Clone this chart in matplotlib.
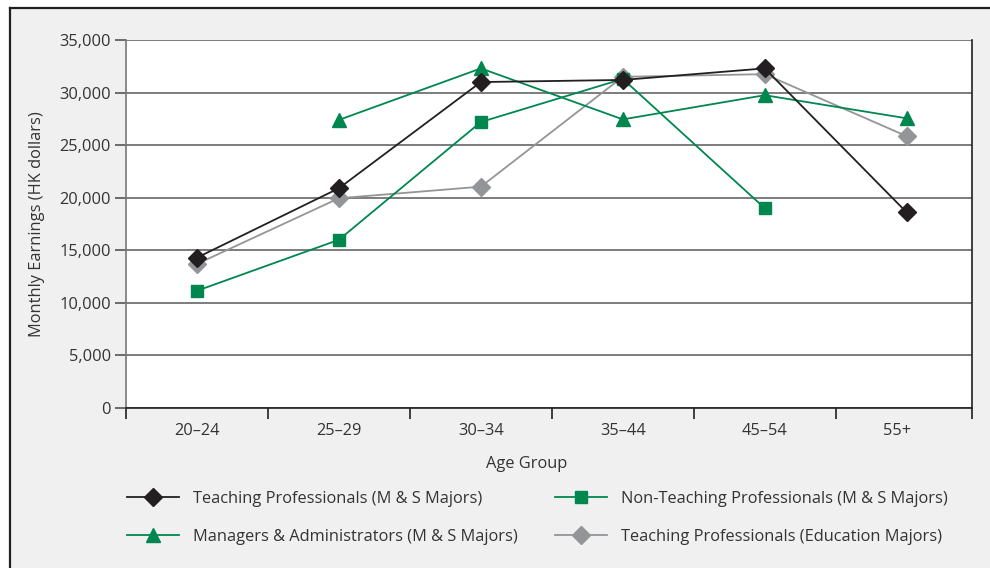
import matplotlib
matplotlib.use("Agg")
import matplotlib.pyplot as plt
import numpy as np
from matplotlib.patches import Rectangle
from matplotlib.lines import Line2D
from matplotlib.ticker import FuncFormatter

plt.rcParams['font.family'] = ['Open Sans', 'DejaVu Sans']

categories = ["20\u201324", "25\u201329", "30\u201334", "35\u201344", "45\u201354", "55+"]
teach_ms = [14300, 20900, 31000, 31200, 32300, 18600]
nonteach_ms = [11150, 16000, 27200, 31300, 19000, np.nan]
managers_ms = [np.nan, 27400, 32300, 27450, 29750, 27550]
teach_edu = [13700, 19950, 21050, 31500, 31750, 25850]
labels = ["Teaching Professionals (M & S Majors)",
          "Non-Teaching Professionals (M & S Majors)",
          "Managers & Administrators (M & S Majors)",
          "Teaching Professionals (Education Majors)"]

FS = 11.8
W, H = 990, 568
fig = plt.figure(figsize=(W/100, H/100), dpi=100)
fig.patch.set_facecolor('white')
# grey panel with border on left/top
fig.patches.append(Rectangle((10/W, 0), 1, 1 - 8/H, transform=fig.transFigure,
                             facecolor='#f0f0f0', edgecolor='none', zorder=-10))
fig.lines.append(Line2D([10/W, 10/W], [0, 1 - 8/H], transform=fig.transFigure, color='#231f20', lw=1.6, zorder=-5))
fig.lines.append(Line2D([10/W, 1], [1 - 8/H, 1 - 8/H], transform=fig.transFigure, color='#231f20', lw=1.6, zorder=-5))

ax = fig.add_axes([126/W, 1 - 408/H, (972 - 126)/W, (408 - 40)/H])
ax.set_facecolor('white')

black = '#231f20'
green = '#00874f'
grey = '#939598'

n = len(categories)
x = np.arange(n) + 0.5
ax.plot(x, teach_ms, color=black, lw=1.3, marker='D', ms=9, zorder=5)
ax.plot(x, nonteach_ms, color=green, lw=1.3, marker='s', ms=9, zorder=4)
ax.plot(x, managers_ms, color=green, lw=1.3, marker='^', ms=10, zorder=4)
ax.plot(x, teach_edu, color=grey, lw=1.3, marker='D', ms=9, zorder=3)

xmax = n - 0.04
ax.set_xlim(0, xmax)
ax.set_ylim(0, 35000)
ax.set_yticks(np.arange(0, 35001, 5000))
ax.yaxis.set_major_formatter(FuncFormatter(lambda v, p: f"{int(v):,}"))
ax.set_xticks(list(np.arange(n)) + [xmax])
ax.set_xticklabels([])
label_pos = list(x[:-1]) + [(n - 1 + xmax) / 2 - 0.05]
ax.set_xticks(label_pos, minor=True)
ax.set_xticklabels(categories, minor=True)
ax.tick_params(axis='x', which='minor', length=0, labelsize=FS, colors='#333333', pad=11)
ax.tick_params(axis='x', which='major', length=8, width=1.2, color='#231f20')
ax.tick_params(axis='y', length=8, width=1.2, color='#555555', labelsize=FS, labelcolor='#333333', pad=3)
ax.grid(axis='y', color='#666666', lw=1.2, zorder=1)
ax.spines['top'].set_visible(False)
ax.spines['left'].set_color('#777777')
ax.spines['left'].set_linewidth(1.2)
ax.spines['bottom'].set_color('#231f20')
ax.spines['bottom'].set_linewidth(1.2)
ax.spines['right'].set_color('#231f20')
ax.spines['right'].set_linewidth(1.2)
ax.set_axisbelow(True)

fig.text(37/W, 1 - 224/H, "Monthly Earnings (HK dollars)", rotation=90, ha='center', va='center',
         fontsize=FS, color='#333333')
fig.text(527/W, 1 - 464/H, "Age Group", ha='center', va='center', fontsize=FS, color='#333333')

h_teach = Line2D([], [], color=black, lw=1.3, marker='D', ms=9)
h_non = Line2D([], [], color=green, lw=1.3, marker='s', ms=9)
h_man = Line2D([], [], color=green, lw=1.3, marker='^', ms=10)
h_edu = Line2D([], [], color=grey, lw=1.3, marker='D', ms=9)
handles = [h_teach, h_man, h_non, h_edu]
leg_labels = [labels[0], labels[2], labels[1], labels[3]]
leg = fig.legend(handles, leg_labels, ncol=2, loc='upper left', bbox_to_anchor=(127/W, 1 - 491/H),
                 frameon=False, fontsize=FS, handlelength=3.2, handletextpad=0.8,
                 columnspacing=2.3, labelspacing=1.32, borderpad=0, borderaxespad=0)
for t in leg.get_texts():
    t.set_color('#333333')

fig.savefig('out.png', dpi=100, facecolor=fig.get_facecolor())
